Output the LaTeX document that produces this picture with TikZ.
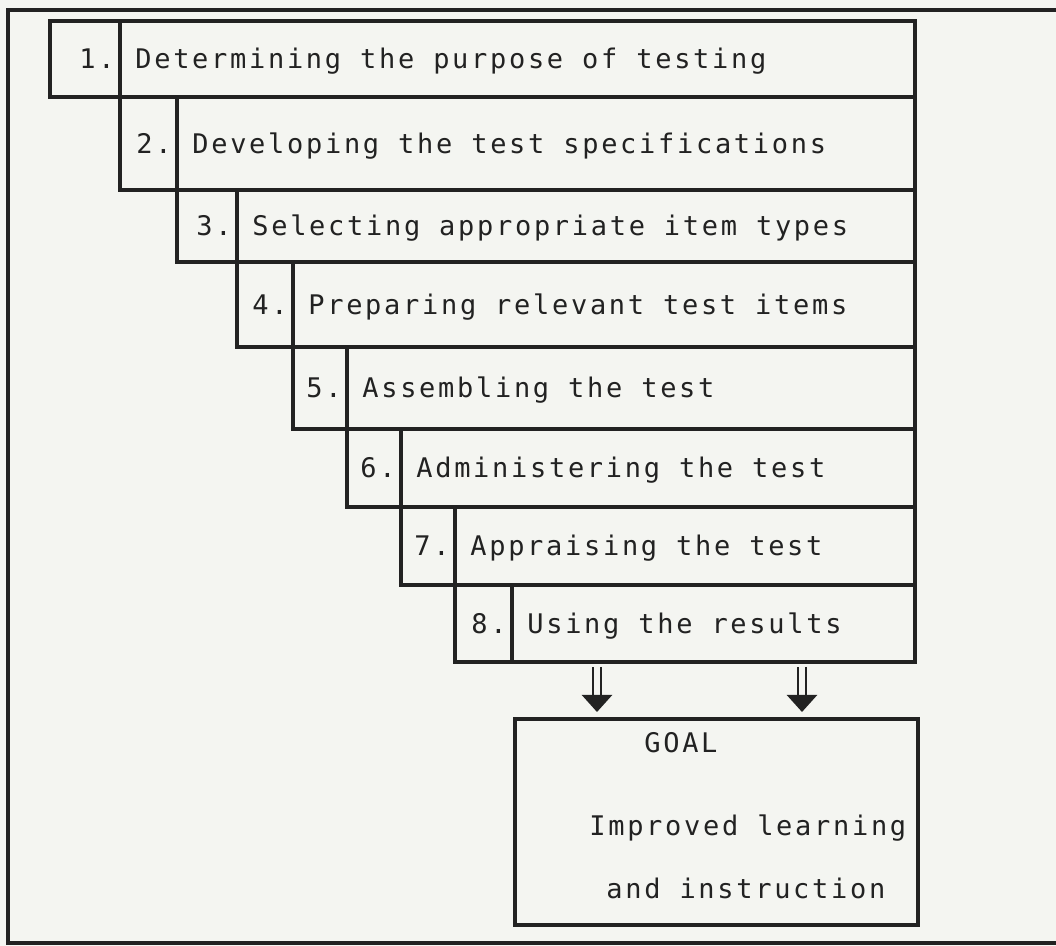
\documentclass[tikz,border=0pt]{standalone}
\usepackage{fontspec}
\usepackage{tikz}
\usetikzlibrary{arrows.meta}
\usetikzlibrary{positioning}
\newfontfamily\typewriter{DejaVu Sans Mono}[LetterSpace=10]
\definecolor{paper}{RGB}{244,245,241}
\definecolor{ink}{RGB}{34,34,34}

\begin{document}
\begin{tikzpicture}[x=0.5pt,y=-0.5pt]
		\tikzset{cell/.style={shape = rectangle, draw = ink, line width = 1.6pt,
				inner sep = 0pt, outer sep = 0pt}}
		\tikzset{steptext/.style={inner sep = 0pt, text = ink, font = \typewriter\fontsize{13.5pt}{16pt}\selectfont,
				text height = 9.8pt, text depth = 0pt}}
		\tikzset{bigarrow/.style={draw = ink, line width = 1.2pt, double = paper, double distance = 3pt,
				-{Triangle[width = 15pt, length = 8.5pt]},
				shorten < = 2.5pt, shorten > = 3.5pt}}
		%sheet and frame
		\path[use as bounding box, fill = paper] (0,0) rectangle (1056,946);
		\draw[ink, line width = 1.6pt] (8,10) rectangle (1070,943);
		%steps
		\node[cell, minimum width = 35pt, minimum height = 38pt, anchor = north west] (n1) at (50,21) {};
		\node[cell, minimum width = 397.5pt, minimum height = 38pt, right = 0pt of n1] (s1) {};
		\node[cell, minimum width = 28.5pt, minimum height = 46.5pt, below right = 0pt and 0pt of s1.south west] (n2) {};
		\node[cell, minimum width = 369pt, minimum height = 46.5pt, right = 0pt of n2] (s2) {};
		\node[cell, minimum width = 30pt, minimum height = 36pt, below right = 0pt and 0pt of s2.south west] (n3) {};
		\node[cell, minimum width = 339pt, minimum height = 36pt, right = 0pt of n3] (s3) {};
		\node[cell, minimum width = 28pt, minimum height = 42.5pt, below right = 0pt and 0pt of s3.south west] (n4) {};
		\node[cell, minimum width = 311pt, minimum height = 42.5pt, right = 0pt of n4] (s4) {};
		\node[cell, minimum width = 27pt, minimum height = 41pt, below right = 0pt and 0pt of s4.south west] (n5) {};
		\node[cell, minimum width = 284pt, minimum height = 41pt, right = 0pt of n5] (s5) {};
		\node[cell, minimum width = 27pt, minimum height = 39pt, below right = 0pt and 0pt of s5.south west] (n6) {};
		\node[cell, minimum width = 257pt, minimum height = 39pt, right = 0pt of n6] (s6) {};
		\node[cell, minimum width = 27pt, minimum height = 39pt, below right = 0pt and 0pt of s6.south west] (n7) {};
		\node[cell, minimum width = 230pt, minimum height = 39pt, right = 0pt of n7] (s7) {};
		\node[cell, minimum width = 28.5pt, minimum height = 38.5pt, below right = 0pt and 0pt of s7.south west] (n8) {};
		\node[cell, minimum width = 201.5pt, minimum height = 38.5pt, right = 0pt of n8] (s8) {};
		%step labels
		\node[steptext, left = 2.5pt of s1.west] (l1) {1.};
		\node[steptext, right = 7.5pt of s1.west] (t1) {Determining the purpose of testing};
		\node[steptext, left = 2.5pt of s2.west] (l2) {2.};
		\node[steptext, right = 7.5pt of s2.west] (t2) {Developing the test specifications};
		\node[steptext, left = 2.5pt of s3.west] (l3) {3.};
		\node[steptext, right = 7.5pt of s3.west] (t3) {Selecting appropriate item types};
		\node[steptext, left = 2.5pt of s4.west] (l4) {4.};
		\node[steptext, right = 7.5pt of s4.west] (t4) {Preparing relevant test items};
		\node[steptext, left = 2.5pt of s5.west] (l5) {5.};
		\node[steptext, right = 7.5pt of s5.west] (t5) {Assembling the test};
		\node[steptext, left = 2.5pt of s6.west] (l6) {6.};
		\node[steptext, right = 7.5pt of s6.west] (t6) {Administering the test};
		\node[steptext, left = 2.5pt of s7.west] (l7) {7.};
		\node[steptext, right = 7.5pt of s7.west] (t7) {Appraising the test};
		\node[steptext, left = 2.5pt of s8.west] (l8) {8.};
		\node[steptext, right = 7.5pt of s8.west] (t8) {Using the results};
		%goal
		\node[cell, minimum width = 201.5pt, minimum height = 103pt, anchor = north west] (goal) at (515,719) {};
		\node[steptext, anchor = base west] (goaltitle) at (644,753) {GOAL};
		\node[steptext, anchor = base west] (goalline1) at (589,835) {Improved learning};
		\node[steptext, anchor = base west] (goalline2) at (606,898) {and instruction};
		%arrows
		\coordinate (a1) at (597,0);
		\coordinate (a2) at (802,0);
		\draw[bigarrow] (s8.south -| a1) -- (goal.north -| a1);
		\draw[bigarrow] (s8.south -| a2) -- (goal.north -| a2);
\end{tikzpicture}
\end{document}
